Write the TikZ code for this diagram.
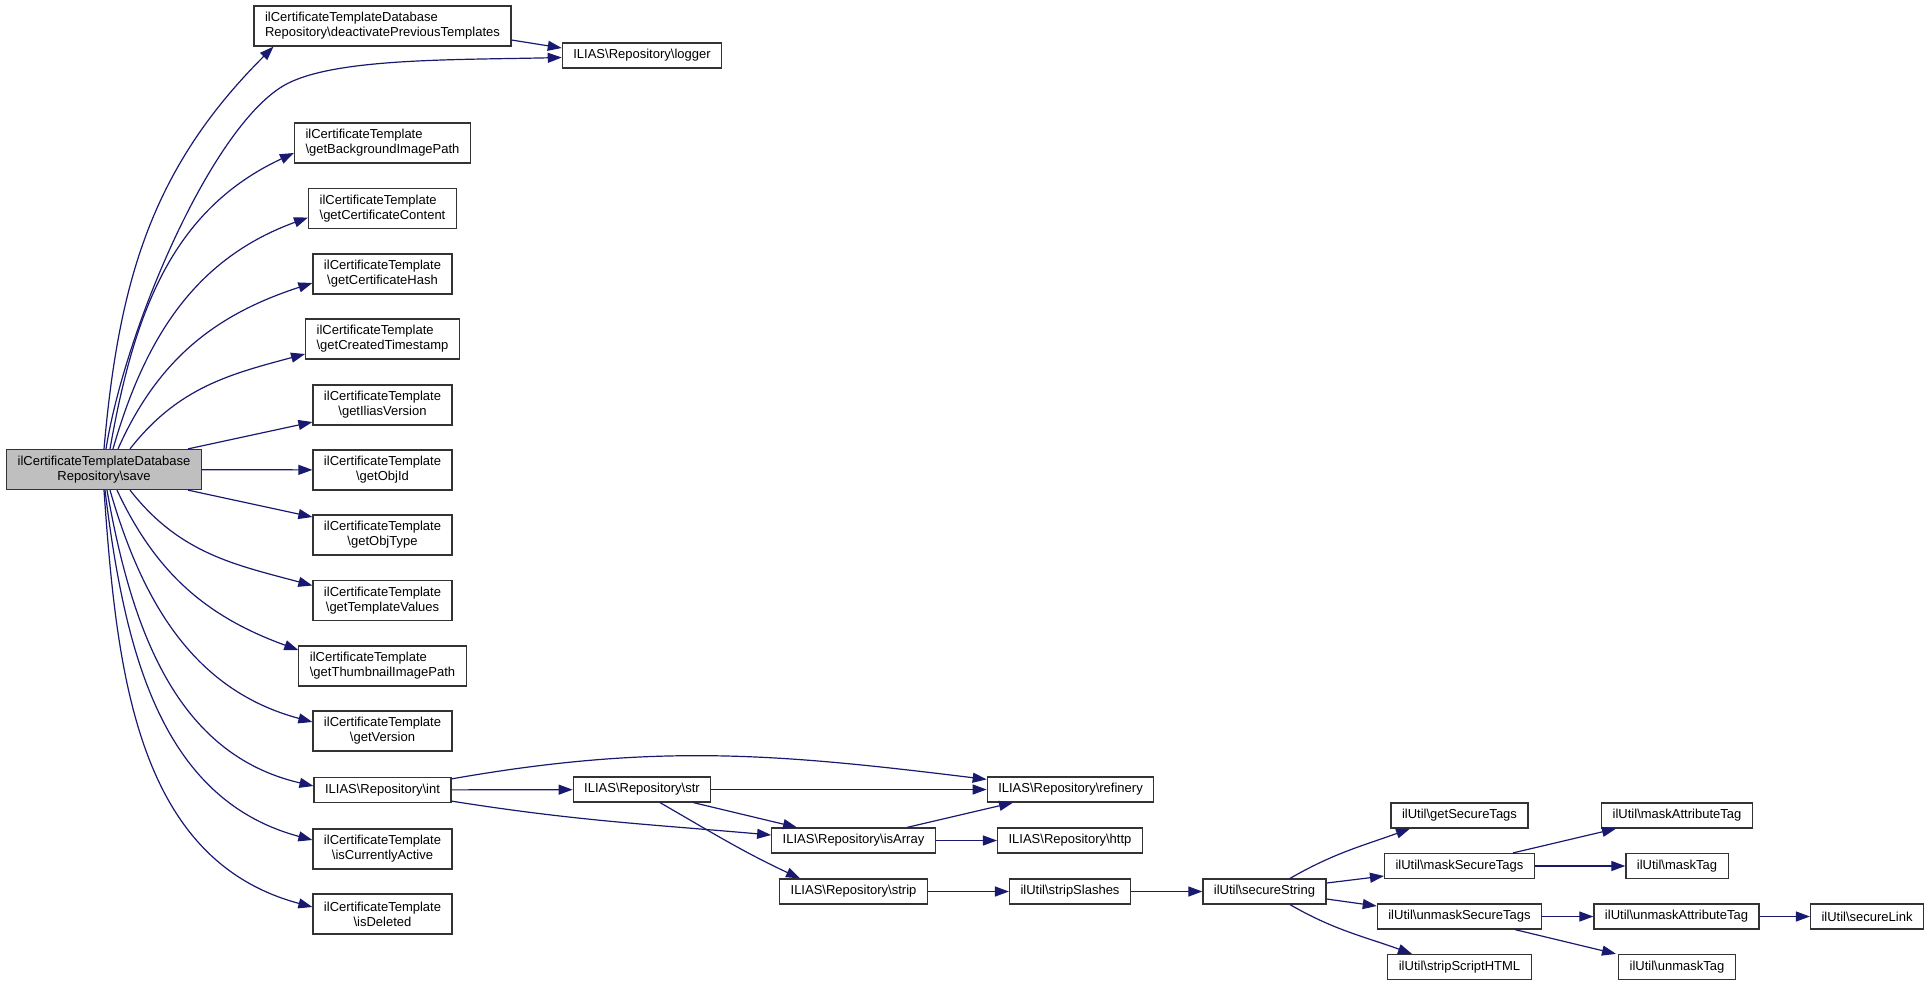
\documentclass[tikz,border=0pt]{standalone}
\usepackage{fontspec}
\setmainfont{Liberation Sans}
\usetikzlibrary{arrows.meta}
\definecolor{edgeblue}{HTML}{191970}
\newcommand{\bsl}{\textbackslash}
\begin{document}
\begin{tikzpicture}[
		x=1pt, y=-1pt,
			fn/.style = {
				draw = black!80,
				line width = 1.2pt,
				fill = white,
				font = \fontsize{13}{15}\selectfont,
				inner xsep = 11pt,
				inner ysep = 1pt,
				minimum height = 25pt,
				align = center
			},
			fn2/.style = {
				fn,
				minimum height = 40pt
			},
			call/.style = {
				draw = edgeblue,
				line width = 1.2pt,
				-{Triangle[length=14pt,width=10pt]}
			}
		]
		\useasboundingbox (0,0) rectangle (1929,986);
		% caller
		\node[fn2, fill=gray!50]  (save)  at (104,469.5) {ilCertificateTemplateDatabase\\Repository\bsl save};
		% first column
		\node[fn2, align=left] (deact)   at (382.5,26)  {ilCertificateTemplateDatabase\\Repository\bsl deactivatePreviousTemplates};
		\node[fn]              (logger)  at (642,55.5)  {ILIAS\bsl Repository\bsl logger};
		\node[fn2, align=left] (bgpath)  at (382.5,143) {ilCertificateTemplate\\\bsl getBackgroundImagePath};
		\node[fn2, align=left] (content) at (382.5,208.5) {ilCertificateTemplate\\\bsl getCertificateContent};
		\node[fn2]             (hash)    at (382.5,274) {ilCertificateTemplate\\\bsl getCertificateHash};
		\node[fn2, align=left] (stamp)   at (382.5,339) {ilCertificateTemplate\\\bsl getCreatedTimestamp};
		\node[fn2]             (ilver)   at (382.5,405) {ilCertificateTemplate\\\bsl getIliasVersion};
		\node[fn2]             (objid)   at (382.5,470) {ilCertificateTemplate\\\bsl getObjId};
		\node[fn2]             (objtype) at (382.5,535) {ilCertificateTemplate\\\bsl getObjType};
		\node[fn2]             (tplval)  at (382.5,600.5) {ilCertificateTemplate\\\bsl getTemplateValues};
		\node[fn2, align=left] (thumb)   at (382.5,666) {ilCertificateTemplate\\\bsl getThumbnailImagePath};
		\node[fn2]             (version) at (382.5,731) {ilCertificateTemplate\\\bsl getVersion};
		\node[fn]              (int)     at (382.5,790) {ILIAS\bsl Repository\bsl int};
		\node[fn2]             (active)  at (382.5,849) {ilCertificateTemplate\\\bsl isCurrentlyActive};
		\node[fn2]             (deleted) at (382.5,914) {ilCertificateTemplate\\\bsl isDeleted};
		% repository helpers
		\node[fn] (str)      at (642,789.5)    {ILIAS\bsl Repository\bsl str};
		\node[fn] (refinery) at (1070.5,789.5) {ILIAS\bsl Repository\bsl refinery};
		\node[fn] (isarray)  at (853.5,840.5)  {ILIAS\bsl Repository\bsl isArray};
		\node[fn] (http)     at (1070,840.5)   {ILIAS\bsl Repository\bsl http};
		\node[fn] (strip)    at (853.5,891.5)  {ILIAS\bsl Repository\bsl strip};
		\node[fn] (slashes)  at (1070,891.5)   {ilUtil\bsl stripSlashes};
		% ilUtil
		\node[fn] (secstr)     at (1264.5,891.5) {ilUtil\bsl secureString};
		\node[fn] (gettags)    at (1459.5,815.5) {ilUtil\bsl getSecureTags};
		\node[fn] (masktags)   at (1459.5,866)   {ilUtil\bsl maskSecureTags};
		\node[fn] (unmasktags) at (1459.5,916.5) {ilUtil\bsl unmaskSecureTags};
		\node[fn] (scripthtml) at (1459.5,967)   {ilUtil\bsl stripScriptHTML};
		\node[fn] (maskattr)   at (1677,815.5)   {ilUtil\bsl maskAttributeTag};
		\node[fn] (masktag)    at (1677,866)     {ilUtil\bsl maskTag};
		\node[fn] (unmaskattr) at (1676.5,916.5) {ilUtil\bsl unmaskAttributeTag};
		\node[fn] (securelink) at (1867,916.5)   {ilUtil\bsl secureLink};
		\node[fn] (unmasktag)  at (1677,967)     {ilUtil\bsl unmaskTag};
		% calls from save, upper half
		\draw[call] (save.north) to[out=85,in=225] ([xshift=20pt]deact.south west);
		\draw[call] ([xshift=2pt]save.north) .. controls (125,330) and (210,130) .. (283,86)
			.. controls (330,58) and (450,60) .. ([yshift=-2pt]logger.west);
		\draw[call] ([xshift=6pt]save.north)  to[out=80,in=205] ([yshift=-10pt]bgpath.west);
		\draw[call] ([xshift=9pt]save.north)  to[out=74,in=200] ([yshift=-9pt]content.west);
		\draw[call] ([xshift=14pt]save.north) to[out=66,in=198] ([yshift=-9pt]hash.west);
		\draw[call] ([xshift=26pt]save.north) to[out=52,in=195] ([yshift=-15pt]stamp.west);
		\draw[call] ([xshift=-14pt]save.north east) -- ([yshift=-17pt]ilver.west);
		\draw[call] (save) -- (objid);
		% calls from save, lower half
		\draw[call] ([xshift=-14pt]save.south east) -- ([yshift=18pt]objtype.west);
		\draw[call] ([xshift=26pt]save.south) to[out=-52,in=165] ([yshift=15pt]tplval.west);
		\draw[call] ([xshift=13pt]save.south) to[out=-65,in=160] ([yshift=16pt]thumb.west);
		\draw[call] ([xshift=6pt]save.south)  to[out=-74,in=165] ([yshift=9pt]version.west);
		\draw[call] ([xshift=3pt]save.south)  to[out=-80,in=167] ([yshift=4pt]int.west);
		\draw[call] ([xshift=1pt]save.south)  to[out=-83,in=165] ([yshift=9pt]active.west);
		\draw[call] (save.south) to[out=-86,in=165] ([yshift=7pt]deleted.west);
		% other calls
		\draw[call] ([yshift=-14pt]deact.east) -- ([yshift=7.5pt]logger.west);
		\draw[call] ([yshift=-2pt]int.north east) to[out=10,in=173] ([yshift=-3pt]refinery.north west);
		\draw[call] (int) -- (str);
		\draw[call] ([yshift=2pt]int.south east) to[out=-9,in=175] ([yshift=5.5pt]isarray.west);
		\draw[call] (str) -- (refinery);
		\draw[call] ([xshift=-18pt]str.south east) -- ([xshift=-56.5pt]isarray.north);
		\draw[call] ([xshift=18pt]str.south) to[out=-30,in=155] ([xshift=-53.5pt]strip.north);
		\draw[call] ([xshift=53.5pt]isarray.north) -- ([xshift=-57.5pt]refinery.south);
		\draw[call] (isarray) -- (http);
		\draw[call] (strip) -- (slashes);
		\draw[call] (slashes) -- (secstr);
		\draw[call] ([xshift=25.5pt]secstr.north) to[out=30,in=200] ([xshift=-49.5pt]gettags.south);
		\draw[call] ([yshift=8.5pt]secstr.east) -- ([yshift=-10pt]masktags.west);
		\draw[call] ([yshift=-7.5pt]secstr.east) -- ([yshift=10.5pt]unmasktags.west);
		\draw[call] ([xshift=25.5pt]secstr.south) to[out=-30,in=160] ([xshift=-47.5pt]scripthtml.north);
		\draw[call] ([xshift=53.5pt]masktags.north) -- ([xshift=-61pt]maskattr.south);
		\draw[call] (masktags) -- (masktag);
		\draw[call] (unmasktags) -- (unmaskattr);
		\draw[call] ([xshift=55.5pt]unmasktags.south) -- ([xshift=-61pt]unmasktag.north);
		\draw[call] (unmaskattr) -- (securelink);
	\end{tikzpicture}
\end{document}
